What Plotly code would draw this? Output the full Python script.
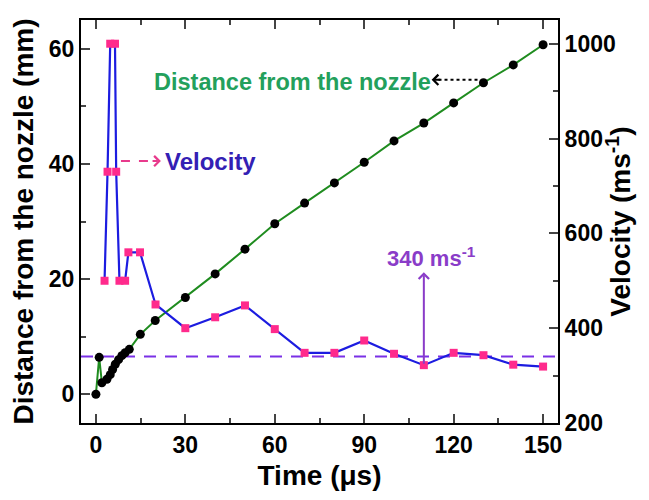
import plotly.graph_objects as go

# ---- data ----
t_dist = [0, 1.1, 2.0, 3.7, 4.8, 5.6, 6.5, 7.6, 8.7, 9.8, 11.2, 14.9, 19.9,
          30, 40, 50, 60, 70, 80, 90, 100, 110, 120, 130, 140, 150]
dist = [0, 6.4, 2.0, 2.6, 3.4, 4.3, 5.2, 6.0, 6.7, 7.2, 7.8, 10.4, 12.8,
        16.8, 20.9, 25.2, 29.6, 33.2, 36.7, 40.3, 44.0, 47.1, 50.6, 54.1, 57.2, 60.7]

t_vel = [2.9, 3.9, 4.8, 6.4, 6.8, 7.9, 9.8, 10.9, 14.8, 20,
         30, 40, 50, 60, 70, 80, 90, 100, 110, 120, 130, 140, 150]
vel = [500, 730, 1000, 1000, 730, 500, 500, 560, 560, 450,
       400, 423, 448, 398, 348, 348, 374, 346, 322, 348, 343, 323, 319]

sound_speed = 340
x_ticks = [0, 30, 60, 90, 120, 150]
y_ticks = [0, 20, 40, 60]
y2_ticks = [200, 400, 600, 800, 1000]

FONT = "Liberation Sans, Arial, sans-serif"
GREEN_TXT = "#23a05c"
GREEN_LINE = "#1f8c1f"
BLUE = "#1c1ce0"
PINK = "#ff2a8c"
PURPLE = "#8a3cc8"
VIOLET = "#7a30e6"

fig = go.Figure()

fig.add_trace(go.Scatter(
    x=t_dist, y=dist, mode="lines+markers", yaxis="y",
    line=dict(color=GREEN_LINE, width=2),
    marker=dict(color="black", size=9, symbol="circle"),
    showlegend=False))

fig.add_trace(go.Scatter(
    x=t_vel, y=vel, mode="lines+markers", yaxis="y2",
    line=dict(color=BLUE, width=2.2),
    marker=dict(color=PINK, size=8, symbol="square"),
    showlegend=False))

# 340 m/s dashed reference line
fig.add_shape(type="line", xref="paper", x0=0, x1=1, yref="y2",
              y0=sound_speed, y1=sound_speed, layer="below",
              line=dict(color=VIOLET, width=2, dash="12px,9px"))

# dotted black arrow to "Distance from the nozzle"
fig.add_shape(type="line", xref="x", yref="y", x0=128, x1=114, y0=54.6, y1=54.6,
              line=dict(color="black", width=2, dash="dot"))
fig.add_annotation(x=112.6, y=54.6, ax=116, ay=54.6, axref="x", ayref="y",
                   xref="x", yref="y", text="", showarrow=True,
                   arrowhead=4, arrowsize=1, arrowwidth=2, arrowcolor="black")
fig.add_annotation(x=65.8, y=54.3, xref="x", yref="y", text="Distance from the nozzle",
                   showarrow=False, font=dict(family=FONT, size=23.5, color=GREEN_TXT, weight="bold"))

# pink dashed arrow to "Velocity"
fig.add_shape(type="line", xref="x", yref="y", x0=8.4, x1=20.5, y0=40.5, y1=40.5,
              line=dict(color="#e83a8c", width=2, dash="dash"))
fig.add_annotation(x=21.8, y=40.5, ax=18.5, ay=40.5, axref="x", ayref="y",
                   xref="x", yref="y", text="", showarrow=True,
                   arrowhead=4, arrowsize=1, arrowwidth=2, arrowcolor="#e83a8c")
fig.add_annotation(x=22.4, y=40.5, xref="x", yref="y", text="Velocity", xanchor="left",
                   showarrow=False, font=dict(family=FONT, size=24, color="#3320b4", weight="bold"))

# 340 ms-1 arrow and label
fig.add_annotation(x=110, y=518, ax=110, ay=322, axref="x", ayref="y2",
                   xref="x", yref="y2", text="", showarrow=True,
                   arrowhead=4, arrowsize=1, arrowwidth=2, arrowcolor=PURPLE)
fig.add_annotation(x=112.4, y=23.9, xref="x", yref="y", text="340 ms<sup>-1</sup>",
                   showarrow=False, font=dict(family=FONT, size=22, color=PURPLE, weight="bold"))

tickfont = dict(family=FONT, size=23, color="black", weight="bold")
titlefont = dict(family=FONT, size=28, color="black", weight="bold")

# right axis title (placed as rotated text beside the tick labels)
fig.add_annotation(x=1.168, y=0.5, xref="paper", yref="paper", textangle=-90,
                   text="Velocity (ms<sup>-1</sup>)", showarrow=False, font=titlefont)

fig.update_layout(
    width=641, height=492,
    margin=dict(l=73, r=91, t=12, b=77, autoexpand=False),
    paper_bgcolor="white", plot_bgcolor="white",
    xaxis=dict(range=[-5, 155], tickvals=x_ticks, ticks="inside", ticklen=9, tickwidth=2,
               showline=True, linewidth=2, linecolor="black", mirror="ticks",
               showgrid=False, zeroline=False, tickfont=tickfont,
               minor=dict(dtick=15, tick0=0, ticks="inside", ticklen=5, tickwidth=2, showgrid=False),
               title=dict(text="Time (\u03bcs)", font=titlefont, standoff=9)),
    yaxis=dict(range=[-5, 65], tickvals=y_ticks, ticks="inside", ticklen=9, tickwidth=2,
               showline=True, linewidth=2, linecolor="black",
               showgrid=False, zeroline=False, tickfont=tickfont,
               minor=dict(dtick=10, tick0=0, ticks="inside", ticklen=5, tickwidth=2, showgrid=False),
               title=dict(text="Distance from the nozzle (mm)", font=titlefont, standoff=14)),
    yaxis2=dict(range=[200, 1050], tickvals=y2_ticks, overlaying="y", side="right",
                ticks="inside", ticklen=9, tickwidth=2,
                showline=True, linewidth=2, linecolor="black",
                showgrid=False, zeroline=False, tickfont=tickfont,
                minor=dict(dtick=100, tick0=0, ticks="inside", ticklen=5, tickwidth=2, showgrid=False)),
)

fig.write_html("out.html")
